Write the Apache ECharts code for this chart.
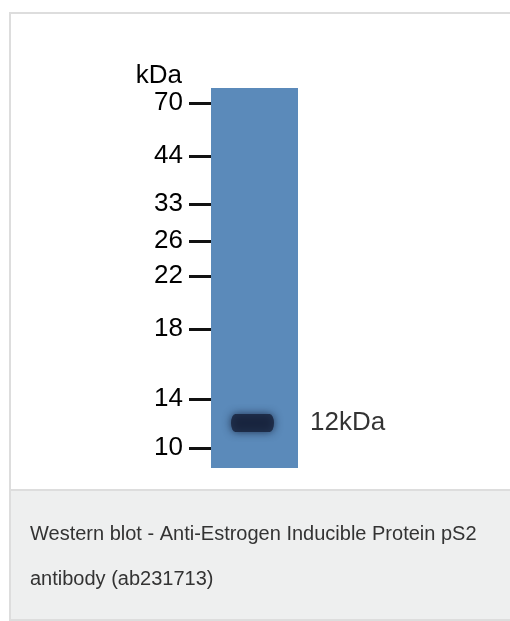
<!DOCTYPE html>
<html>
<head>
<meta charset="utf-8">
<script src="https://cdn.jsdelivr.net/npm/echarts@6/dist/echarts.min.js"></script>
<style>
  html, body { margin: 0; padding: 0; background: #ffffff; }
  #chart { width: 510px; height: 621px; }
</style>
</head>
<body>
<div id="chart"></div>
<script>
// Molecular weight markers (kDa) and their migration distance from lane top
const markerKDa = [70, 44, 33, 26, 22, 18, 14, 10];
const markerMigration = [15, 68, 116, 153, 188, 241, 311, 360];
const laneLength = 380;
// Lanes
const lanes = ['Lane 1'];
// Detected band(s)
const bandLabels = ['12kDa'];
const bandMigration = [335];
const captionLines = [
  'Western blot - Anti-Estrogen Inducible Protein pS2',
  'antibody (ab231713)'
];

const chart = echarts.init(document.getElementById('chart'), null, { renderer: 'canvas' });

const labelFor = v => {
  const i = markerMigration.indexOf(v);
  return i >= 0 ? String(markerKDa[i]) : '';
};

const option = {
  animation: false,
  backgroundColor: '#ffffff',
  textStyle: { fontFamily: '"Liberation Sans", Arial, sans-serif' },
  graphic: [
    { type: 'rect', z: -10, shape: { x: 10, y: 13, width: 520, height: 477 },
      style: { fill: '#ffffff', stroke: '#dddddd', lineWidth: 2 } },
    { type: 'rect', z: -10, shape: { x: 10, y: 490, width: 520, height: 130 },
      style: { fill: '#eeefef', stroke: '#dddddd', lineWidth: 2 } }
  ],
  title: {
    text: captionLines.join('\n'),
    left: 30, top: 512, padding: 0,
    textStyle: { fontSize: 20, fontWeight: 'normal', color: '#333333', lineHeight: 45,
      fontFamily: '"Liberation Sans", Arial, sans-serif' }
  },
  grid: {
    left: 211, top: 88, width: 87, height: 380,
    show: true, backgroundColor: '#5b8aba', borderWidth: 0
  },
  xAxis: {
    type: 'category', data: lanes, show: false
  },
  yAxis: {
    type: 'value', inverse: true, min: 0, max: laneLength,
    splitLine: { show: false },
    axisLine: { show: false },
    axisTick: { show: true, length: 22, customValues: markerMigration,
      lineStyle: { width: 3, color: '#111111' } },
    axisLabel: { customValues: markerMigration, formatter: labelFor,
      fontSize: 26, color: '#000000', margin: 28 },
    name: 'kDa', nameLocation: 'start', nameGap: 12,
    nameTextStyle: { fontSize: 26, color: '#000000', align: 'right', verticalAlign: 'middle',
      padding: [0, 29, 0, 0] }
  },
  series: [{
    type: 'scatter',
    clip: false,
    symbol: 'path://M10,0 H90 A10,10 0 0 1 90,20 H10 A10,10 0 0 1 10,0 Z',
    symbolSize: [43, 18],
    symbolOffset: [-2, 0],
    itemStyle: { color: '#16213a', shadowBlur: 8, shadowColor: 'rgba(15,25,50,0.95)' },
    label: { show: true, position: 'right', distance: 36, formatter: '{b}',
      fontSize: 26, color: '#000000' },
    data: bandMigration.map((m, i) => ({ name: bandLabels[i], value: [lanes[0], m] }))
  }]
};
chart.setOption(option);
</script>
</body>
</html>
